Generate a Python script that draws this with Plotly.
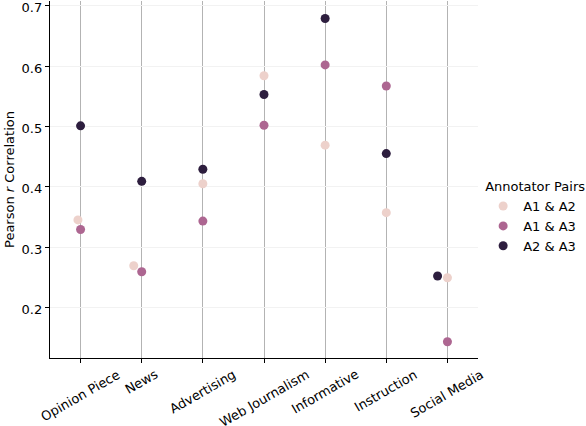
import numpy as np
import plotly.graph_objects as go

categories = ["Opinion Piece", "News", "Advertising", "Web Journalism",
              "Informative", "Instruction", "Social Media"]
pairs = ["A1 & A2", "A1 & A3", "A2 & A3"]
a1_a2 = [0.345, 0.269, 0.405, 0.584, 0.469, 0.357, 0.249]
a1_a3 = [0.329, 0.259, 0.343, 0.502, 0.602, 0.567, 0.143]
a2_a3 = [0.501, 0.409, 0.429, 0.553, 0.679, 0.455, 0.252]
y_ticks = [0.2, 0.3, 0.4, 0.5, 0.6, 0.7]

colors = ["#EDD1CB", "#AD6691", "#2D1E3E"]
series = [a1_a2, a1_a3, a2_a3]
FS = 13

# plot area in px, used for the swarm spacing
W, H = 428, 357
x_range = [-0.5, 6.5]
y_range = [0.116, 0.708]
px_x = W / (x_range[1] - x_range[0])
px_y = H / (y_range[1] - y_range[0])
d = 10.0


def swarm(values):
    # simple beeswarm: keep points d px apart, nearest to the centre
    out = [0.0] * len(values)
    placed = []
    for i in np.argsort(values):
        y = values[i] * px_y
        cands = [0.0]
        for cx, cy in placed:
            dy = y - cy
            if abs(dy) < d:
                dx = np.sqrt(d * d - dy * dy)
                cands += [cx - dx, cx + dx]
        cands.sort(key=lambda c: (abs(c), c))
        for c in cands:
            if all((c - cx) ** 2 + (y - cy) ** 2 >= d * d - 1e-6 for cx, cy in placed):
                break
        placed.append((c, y))
        out[i] = c / px_x
    return out


offsets = [[0.0] * len(categories) for _ in series]
for j in range(len(categories)):
    off = swarm([s[j] for s in series])
    for k in range(len(series)):
        offsets[k][j] = off[k]

fig = go.Figure()
for k, name in enumerate(pairs):
    fig.add_trace(go.Scatter(
        x=[j + offsets[k][j] for j in range(len(categories))],
        y=series[k],
        mode="markers",
        name=name,
        marker=dict(size=9, color=colors[k], line=dict(width=0)),
    ))

for j, cat in enumerate(categories):
    fig.add_annotation(x=j, xref="x", y=0, yref="paper", text=cat,
                       showarrow=False, textangle=-30, xanchor="center",
                       yanchor="top", yshift=-6,
                       font=dict(size=FS, color="black"))

fig.update_xaxes(range=x_range, tickvals=list(range(len(categories))),
                 showticklabels=False, showgrid=True, gridcolor="#b3b3b3",
                 gridwidth=1.4, showline=True, linecolor="black", linewidth=1.3,
                 ticks="outside", ticklen=4, tickcolor="black", zeroline=False,
                 automargin=False)
fig.update_yaxes(range=y_range, tickvals=y_ticks,
                 ticktext=[f"{v:.1f}" for v in y_ticks],
                 ticklabeloverflow="allow", ticklabelshift=2,
                 showgrid=True, gridcolor="#f2f2f2", gridwidth=1,
                 showline=True, linecolor="black", linewidth=1.3,
                 ticks="outside", ticklen=4, tickcolor="black", zeroline=False,
                 automargin=False,
                 title=dict(text="Pearson <i>r</i> Correlation", standoff=4,
                            font=dict(size=FS, color="black")),
                 tickfont=dict(size=FS, color="black"))

fig.update_layout(
    width=586, height=426,
    margin=dict(l=50, r=108, t=1, b=68, autoexpand=False),
    plot_bgcolor="white", paper_bgcolor="white",
    font=dict(family="DejaVu Sans", size=FS, color="black"),
    legend=dict(title=dict(text="Annotator Pairs",
                           font=dict(size=FS, color="black")),
                x=1.012, xanchor="left", y=0.515, yanchor="top",
                font=dict(size=FS, color="black"),
                tracegroupgap=0, bgcolor="rgba(0,0,0,0)"),
)

# the page body has an 8px default margin; drop it so the figure fills the window
fig.write_html("out.html", config={"displayModeBar": False},
               post_script="document.body.style.margin='0';")
